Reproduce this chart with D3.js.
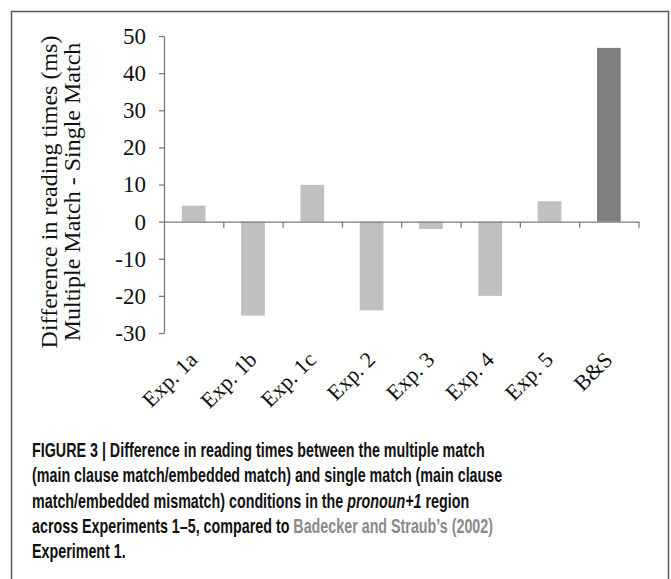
<!DOCTYPE html>
<html>
<head>
<meta charset="utf-8">
<script src="https://cdn.jsdelivr.net/npm/d3@7"></script>
<style>
  body { margin: 0; background: #fff; }
  .tick text { font-family: "Liberation Serif", "Times New Roman", serif; font-size: 23px; fill: #111; }
  .caption { font-family: "Liberation Sans", Arial, sans-serif; font-weight: bold; font-size: 20px; fill: #111; }
</style>
</head>
<body>
<div id="chart"></div>
<script>
// data
const categories = ["Exp. 1a", "Exp. 1b", "Exp. 1c", "Exp. 2", "Exp. 3", "Exp. 4", "Exp. 5", "B&S"];
const values = [4.3, -25.3, 9.9, -23.9, -2.0, -20.0, 5.5, 46.8];
const barColors = ["#c0c0c0", "#c0c0c0", "#c0c0c0", "#c0c0c0", "#c0c0c0", "#c0c0c0", "#c0c0c0", "#7f7f7f"];
const yTicks = [50, 40, 30, 20, 10, 0, -10, -20, -30];
const yTitle = ["Difference in reading times (ms)", "Multiple Match - Single Match"];

const W = 671, H = 579;
const svg = d3.select("#chart")
  .append("svg")
    .attr("width", W)
    .attr("height", H);

// frame around the figure
svg.append("path")
  .attr("d", "M11.5,579 V11.5 H668.5 V579")
  .attr("fill", "none")
  .attr("stroke", "#5a5a5a")
  .attr("stroke-width", 1.5);

// scales
const x = d3.scaleBand()
  .domain(categories)
  .range([164, 638.5])
  .paddingInner(0.6)
  .paddingOuter(0.3);

const y = d3.scaleLinear()
  .domain([-30, 50])
  .range([333, 36]);

// boundary ticks for the category axis
const xb = d3.scaleLinear()
  .domain([0, categories.length])
  .range([164, 638.5]);

// bars
svg.append("g")
  .selectAll("rect")
  .data(values)
  .join("rect")
    .attr("x", (d, i) => x(categories[i]))
    .attr("width", x.bandwidth())
    .attr("y", d => y(Math.max(0, d)))
    .attr("height", d => Math.abs(y(d) - y(0)))
    .attr("fill", (d, i) => barColors[i]);

// y axis (plain hyphen for negatives, like the original)
const yAxis = svg.append("g")
  .attr("transform", "translate(164,0)")
  .call(d3.axisLeft(y)
    .tickValues(yTicks)
    .tickFormat(d => String(d))
    .tickSize(5)
    .tickSizeOuter(0)
    .tickPadding(13));
yAxis.select(".domain").attr("stroke", "#7a7a7a").attr("stroke-width", 1.3);
yAxis.selectAll(".tick line").attr("stroke", "#7a7a7a").attr("stroke-width", 1.3);

// x axis (line at zero, ticks between categories)
const xAxis = svg.append("g")
  .attr("transform", `translate(0,${y(0)})`)
  .call(d3.axisBottom(xb)
    .tickValues(d3.range(1, categories.length + 1))
    .tickFormat("")
    .tickSize(6)
    .tickSizeOuter(0));
xAxis.select(".domain").attr("stroke", "#7a7a7a").attr("stroke-width", 1.3);
xAxis.selectAll(".tick line").attr("stroke", "#7a7a7a").attr("stroke-width", 1.3);

// category labels, rotated
svg.append("g")
  .selectAll("text")
  .data(categories)
  .join("text")
    .attr("transform", d => `translate(${x(d) + x.bandwidth() / 2 + 5},361) rotate(-45)`)
    .attr("text-anchor", "end")
    .attr("font-family", "Liberation Serif, Times New Roman, serif")
    .attr("font-size", 22)
    .attr("fill", "#111")
    .text(d => d);

// y axis title, two lines
svg.append("g")
  .attr("transform", "translate(57,192) rotate(-90)")
  .selectAll("text")
  .data(yTitle)
  .join("text")
    .attr("y", (d, i) => i * 23)
    .attr("text-anchor", "middle")
    .attr("font-family", "Liberation Serif, Times New Roman, serif")
    .attr("font-size", 24)
    .attr("fill", "#111")
    .text(d => d);

// figure caption, set in a narrow bold sans
const capG = svg.append("g");
const cap = capG.append("text")
  .attr("class", "caption")
  .attr("x", 0)
  .attr("y", 0);
const lh = 25.3;
const first = cap.append("tspan").attr("x", 0).attr("dy", 0)
  .text("FIGURE 3 | Difference in reading times between the multiple match");
cap.append("tspan").attr("x", 0).attr("dy", lh)
  .text("(main clause match/embedded match) and single match (main clause");
cap.append("tspan").attr("x", 0).attr("dy", lh)
  .text("match/embedded mismatch) conditions in the ");
cap.append("tspan").attr("font-style", "italic").text("pronoun+1");
cap.append("tspan").text(" region");
cap.append("tspan").attr("x", 0).attr("dy", lh)
  .text("across Experiments 1\u20135, compared to ");
cap.append("tspan").attr("fill", "#8a8a8a").text("Badecker and Straub\u2019s (2002)");
cap.append("tspan").attr("x", 0).attr("dy", lh)
  .text("Experiment 1.");

// squeeze horizontally so the first line runs 32..485 like the original
const firstLen = first.node().getComputedTextLength();
const sx = 453 / firstLen;
capG.attr("transform", `translate(32,457) scale(${sx},1)`);
</script>
</body>
</html>
